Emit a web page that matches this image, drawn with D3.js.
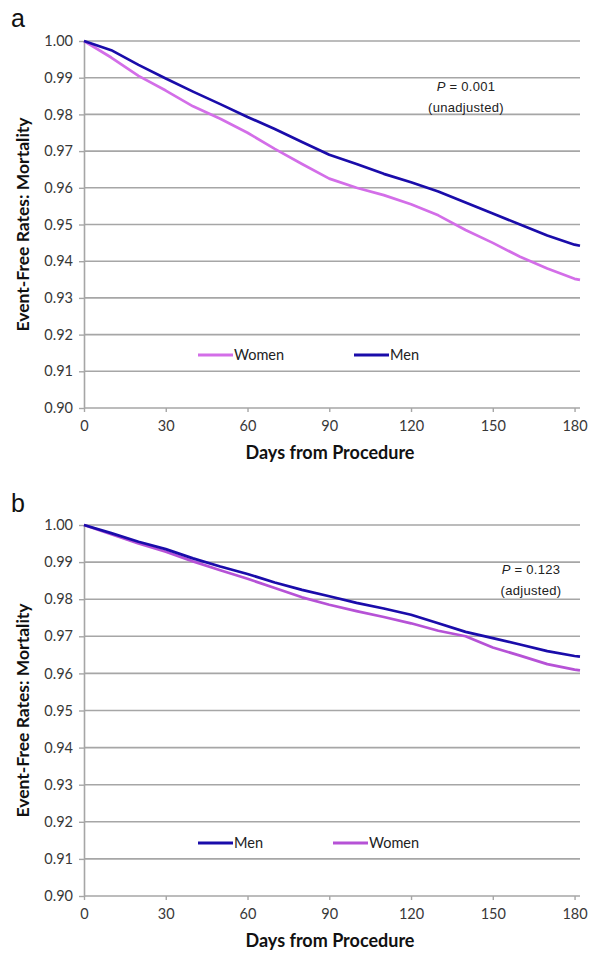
<!DOCTYPE html>
<html>
<head>
<meta charset="utf-8">
<script src="https://cdn.jsdelivr.net/npm/d3@7"></script>
<style>
  html, body { margin: 0; padding: 0; background: #fff; }
  svg { display: block; }
</style>
</head>
<body>
<svg id="chart" width="602" height="965"></svg>
<script>
// ---------- data ----------
const days = [0,10,20,30,40,50,60,70,80,90,100,110,120,130,140,150,160,170,180,182];

// Panel a (unadjusted)
const menA   = [1.000,0.9975,0.9935,0.9898,0.9862,0.9828,0.9793,0.9760,0.9725,0.9690,0.9665,0.9638,0.9615,0.9590,0.9560,0.9530,0.9500,0.9470,0.9445,0.9442];
const womenA = [1.000,0.9955,0.9905,0.9865,0.9822,0.9788,0.9750,0.9706,0.9665,0.9625,0.9600,0.9580,0.9555,0.9525,0.9485,0.9450,0.9412,0.9380,0.9352,0.9349];

// Panel b (adjusted)
const menB   = [1.000,0.9978,0.9955,0.9935,0.9910,0.9888,0.9868,0.9845,0.9825,0.9808,0.9790,0.9775,0.9758,0.9735,0.9712,0.9695,0.9678,0.9660,0.9647,0.9645];
const womenB = [1.000,0.9975,0.9950,0.9928,0.9902,0.9878,0.9855,0.9830,0.9805,0.9785,0.9768,0.9752,0.9735,0.9715,0.9700,0.9670,0.9648,0.9625,0.9610,0.9608];

const yTicks = [0.90,0.91,0.92,0.93,0.94,0.95,0.96,0.97,0.98,0.99,1.00];
const xTicks = [0,30,60,90,120,150,180];

const panelLetters = ["a","b"];
const pLabels = ["P = 0.001","P = 0.123"];
const pNotes = ["(unadjusted)","(adjusted)"];
const yTitle = "Event-Free Rates: Mortality";
const xTitle = "Days from Procedure";

// ---------- styles ----------
const colWomenA = "#d36ee8";
const colWomenB = "#b652d6";
const colMen = "#1a0caa";
const gridCol = "#a6a6a6";
const textCol = "#383838";
const fontUI = "Lato, 'Open Sans', sans-serif";
const fontP = "'Liberation Sans', Arial, sans-serif";

const panels = [
  { top: 41, bottom: 408, letterY: 30,
    series: [{name:"Women", vals: womenA, color: colWomenA},
             {name:"Men", vals: menA, color: colMen}],
    legend: [{name:"Women", color: colWomenA, x: 198}, {name:"Men", color: colMen, x: 354}],
    legendY: 355, pX: 466, pY: 91 },
  { top: 525, bottom: 896, letterY: 515,
    series: [{name:"Women", vals: womenB, color: colWomenB},
             {name:"Men", vals: menB, color: colMen}],
    legend: [{name:"Men", color: colMen, x: 198}, {name:"Women", color: colWomenB, x: 333}],
    legendY: 843, pX: 531, pY: 574 }
];

const svg = d3.select("#chart");
const x = d3.scaleLinear().domain([0,182]).range([84,580]);

panels.forEach((p, i) => {
  const y = d3.scaleLinear().domain([0.90,1.00]).range([p.bottom, p.top]);
  const g = svg.append("g");

  // gridlines
  g.selectAll("line.grid").data(yTicks.slice(1)).enter().append("line")
    .attr("x1", x(0)).attr("x2", x(182))
    .attr("y1", d => y(d)).attr("y2", d => y(d))
    .attr("stroke", gridCol).attr("stroke-width", 1.6);

  // y axis
  const yAxis = d3.axisLeft(y).tickValues(yTicks).tickFormat(d3.format(".2f")).tickSize(5).tickSizeOuter(0);
  const ya = g.append("g").attr("transform", `translate(${x(0)},0)`).call(yAxis);
  ya.select(".domain").attr("stroke", gridCol).attr("stroke-width", 1.6);
  ya.selectAll(".tick line").attr("stroke", gridCol).attr("stroke-width", 1.4);
  ya.selectAll(".tick text").attr("x", -11).attr("fill", textCol)
    .style("font-family", fontUI).style("font-size", "14.5px");

  // x axis
  const xAxis = d3.axisBottom(x).tickValues(xTicks).tickSize(4).tickSizeOuter(0);
  const xa = g.append("g").attr("transform", `translate(0,${y(0.90)})`).call(xAxis);
  xa.select(".domain").attr("stroke", gridCol).attr("stroke-width", 1.6)
    .attr("d", `M${x(0)},0H${x(182)}`);
  xa.selectAll(".tick line").attr("stroke", gridCol).attr("stroke-width", 1.4);
  xa.selectAll(".tick text").attr("y", 13).attr("fill", textCol)
    .style("font-family", fontUI).style("font-size", "14.5px");

  // series
  const line = d3.line().x((d, k) => x(days[k])).y(d => y(d));
  p.series.forEach(s => {
    g.append("path").datum(s.vals)
      .attr("d", line)
      .attr("fill", "none").attr("stroke", s.color).attr("stroke-width", 2.7)
      .attr("stroke-linejoin", "round");
  });

  // legend
  p.legend.forEach(l => {
    g.append("line").attr("x1", l.x).attr("x2", l.x + 35)
      .attr("y1", p.legendY).attr("y2", p.legendY)
      .attr("stroke", l.color).attr("stroke-width", 3);
    g.append("text").attr("x", l.x + 36).attr("y", p.legendY + 5)
      .attr("fill", "#222")
      .style("font-family", fontUI).style("font-size", "14.5px")
      .text(l.name);
  });

  // p-value
  const pt = g.append("text").attr("x", p.pX).attr("y", p.pY).attr("text-anchor", "middle")
    .attr("fill", "#222")
    .style("font-family", fontP).style("font-size", "13px").style("letter-spacing", "0.3px");
  pt.append("tspan").style("font-style", "italic").text(pLabels[i].slice(0,1));
  pt.append("tspan").text(pLabels[i].slice(1));
  g.append("text").attr("x", p.pX).attr("y", p.pY + 21).attr("text-anchor", "middle")
    .attr("fill", "#222")
    .style("font-family", fontP).style("font-size", "13px").style("letter-spacing", "0.3px")
    .text(pNotes[i]);

  // titles
  g.append("text")
    .attr("transform", `translate(29,${(p.top + p.bottom)/2}) rotate(-90)`)
    .attr("text-anchor", "middle").attr("fill", "#111")
    .style("font-family", fontUI).style("font-weight", "bold").style("font-size", "17.5px")
    .text(yTitle);
  g.append("text")
    .attr("x", (x(0) + x(182)) / 2 - 2).attr("y", p.bottom + 51)
    .attr("text-anchor", "middle").attr("fill", "#111")
    .style("font-family", fontUI).style("font-weight", "bold").style("font-size", "18px")
    .text(xTitle);

  // panel letter
  g.append("text").attr("x", 11).attr("y", p.letterY - 3)
    .attr("fill", "#111")
    .style("font-family", fontP).style("font-size", "25px")
    .text(panelLetters[i]);
});
</script>
</body>
</html>
